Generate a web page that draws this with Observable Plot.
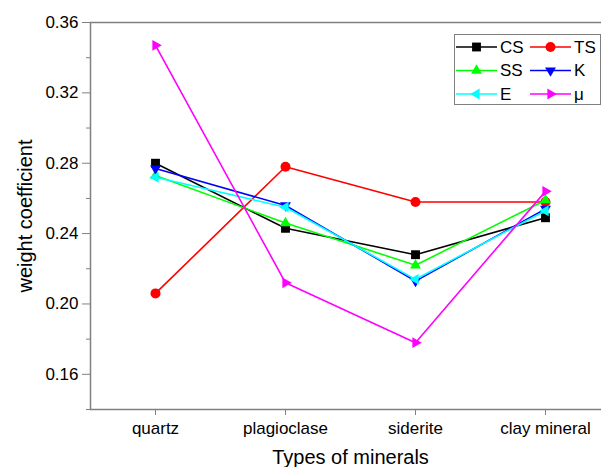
<!DOCTYPE html>
<html><head><meta charset="utf-8">
<script src="https://cdn.jsdelivr.net/npm/d3@7"></script>
<script src="https://cdn.jsdelivr.net/npm/@observablehq/plot@0.6"></script>
<style>
html,body{margin:0;padding:0;background:#fff;overflow:hidden;}
#wrap{position:relative;width:601px;height:467px;overflow:hidden;background:#fff;font-family:"Liberation Sans",Arial,sans-serif;}
#legend{position:absolute;left:454px;top:34px;width:145px;height:69px;border:1px solid #808080;background:#fff;}
</style></head><body><div id="wrap"></div>
<script>
const minerals = ["quartz", "plagioclase", "siderite", "clay mineral"];
const seriesNames = ["CS", "TS", "SS", "K", "E", "μ"];
const CS = [0.280, 0.243, 0.228, 0.249];
const TS = [0.206, 0.278, 0.258, 0.258];
const SS = [0.273, 0.246, 0.222, 0.259];
const K  = [0.277, 0.256, 0.213, 0.254];
const E  = [0.272, 0.255, 0.214, 0.253];
const MU = [0.347, 0.212, 0.178, 0.264];
const seriesValues = [CS, TS, SS, K, E, MU];
const colors = ["#000000", "#ff0000", "#00ff00", "#0000ff", "#00ffff", "#ff00ff"];
const yMajor = [0.16, 0.20, 0.24, 0.28, 0.32, 0.36];
const yMinor = [0.14, 0.18, 0.22, 0.26, 0.30, 0.34];
const yDomain = [0.14, 0.36];
const xDomain = [-0.5, minerals.length - 0.5];

function tri(angleDeg) {
  return {draw(ctx, size) {
    const R = Math.sqrt(size / Math.PI) * 1.25;
    for (let i = 0; i < 3; i++) {
      const a = (angleDeg + i * 120) * Math.PI / 180;
      const x = R * Math.cos(a), y = R * Math.sin(a);
      if (i) ctx.lineTo(x, y); else ctx.moveTo(x, y);
    }
    ctx.closePath();
  }};
}
const symbols = [d3.symbolSquare, d3.symbolCircle, tri(-90), tri(90), tri(180), tri(0)];
const symbolNames = ["square", "circle", tri(-90), tri(90), tri(180), tri(0)];

const marks = [];
seriesNames.forEach((s, i) => {
  const rows = minerals.map((m, j) => ({idx: j, value: seriesValues[i][j]}));
  marks.push(Plot.line(rows, {x: "idx", y: "value", stroke: colors[i], strokeWidth: 1.6}));
  marks.push(Plot.dot(rows, {x: "idx", y: "value", fill: colors[i], stroke: "none", symbol: symbolNames[i], r: 5}));
});

const chart = Plot.plot({
  width: 601,
  height: 467,
  marginLeft: 90,
  marginRight: 0,
  marginTop: 22,
  marginBottom: 58,
  style: {fontFamily: "'Liberation Sans', Arial, sans-serif", overflow: "hidden", background: "#fff", maxWidth: "none"},
  x: {type: "linear", domain: xDomain, range: [90, 610], axis: null},
  y: {domain: yDomain, axis: null},
  marks: [
    Plot.ruleY(yDomain, {stroke: "#808080", strokeWidth: 1.5}),
    Plot.ruleX([xDomain[0]], {stroke: "#808080", strokeWidth: 1.5}),
    Plot.axisY({ticks: yMinor, tickSize: 4, tickFormat: () => "", label: null, stroke: "#808080"}),
    Plot.axisY({ticks: yMajor, tickSize: 8, tickPadding: 4, tickFormat: ".2f", label: null, fontSize: 17, stroke: "#808080", fill: "#000"}),
    Plot.axisX({ticks: d3.range(minerals.length), tickFormat: i => minerals[i], tickSize: 6, tickPadding: 6, label: null, fontSize: 17, stroke: "#808080", fill: "#000"}),
    Plot.text(["weight coefficient"], {frameAnchor: "left", textAnchor: "middle", lineAnchor: "middle", rotate: -90, dx: -65, fontSize: 20, fill: "#000"}),
    Plot.text(["Types of minerals"], {x: [(xDomain[0] + xDomain[1]) / 2], frameAnchor: "bottom", lineAnchor: "middle", dy: 48, fontSize: 20, fill: "#000"}),
    ...marks
  ]
});
const wrap = document.getElementById("wrap");
wrap.appendChild(chart);

// legend
const leg = d3.select(wrap).append("div").attr("id", "legend");
const lsvg = leg.append("svg").attr("width", 145).attr("height", 69).style("display", "block");
seriesNames.forEach((s, i) => {
  const col = i % 2, row = Math.floor(i / 2);
  const x0 = col === 0 ? 1 : 75, cy = 12 + row * 23.5;
  const g = lsvg.append("g").attr("transform", `translate(${x0},${cy})`);
  g.append("line").attr("x1", 0).attr("x2", 41).attr("y1", 0).attr("y2", 0).attr("stroke", colors[i]).attr("stroke-width", 1.6);
  g.append("path").attr("transform", "translate(20.5,0)").attr("d", d3.symbol(symbols[i], Math.PI * 25)()).attr("fill", colors[i]);
  g.append("text").attr("x", 44).attr("y", 0).attr("dy", "0.35em").attr("font-size", 17)
    .attr("font-family", "'Liberation Sans', Arial, sans-serif").attr("fill", "#000").text(s);
});
</script></body></html>
